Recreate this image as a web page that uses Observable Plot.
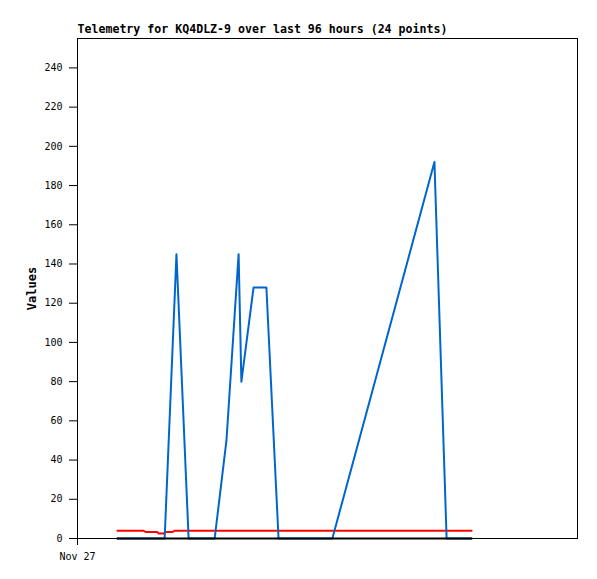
<!DOCTYPE html>
<html>
<head>
<meta charset="utf-8">
<script src="https://cdn.jsdelivr.net/npm/d3@7"></script>
<script src="https://cdn.jsdelivr.net/npm/@observablehq/plot@0.6"></script>
<style>
  html, body { margin: 0; padding: 0; background: #fff; }
</style>
</head>
<body>
<div id="chart"></div>
<script>
const title = "Telemetry for KQ4DLZ-9 over last 96 hours (24 points)";
const yLabel = "Values";
const yTicks = [0, 20, 40, 60, 80, 100, 120, 140, 160, 180, 200, 220, 240];
const xTickLabels = ["Nov 27"];
const xTickDates = ["2023-11-27T00:00"];

// blue series
const blueTimes = ["01:55","04:11","04:45","05:20","06:35","07:09","07:44","07:52","08:27","09:04","09:39","12:14","17:08","17:43","18:55"];
const blueValues = [0, 0, 145, 0, 0, 50, 145, 80, 128, 128, 0, 0, 192, 0, 0];

// red series
const redTimes = ["01:55","03:10","03:16","03:50","03:53","04:08","04:14","04:34","04:40","18:55"];
const redValues = [4, 4, 3.3, 3.3, 2.6, 2.6, 3.3, 3.3, 4, 4];

// black series
const blackTimes = ["01:55","18:55"];
const blackValues = [0, 0];

const day = "2023-11-27T";
const toDate = t => new Date(day + t);
const mk = (times, values) => times.map((t, i) => ({t: toDate(t), v: values[i]}));
const blue = mk(blueTimes, blueValues);
const red = mk(redTimes, redValues);
const black = mk(blackTimes, blackValues);

const chart = Plot.plot({
  width: 597,
  height: 579,
  marginTop: 38,
  marginLeft: 77,
  marginRight: 20,
  marginBottom: 41,
  style: {fontFamily: "DejaVu Sans Mono", fontSize: "10px", background: "#fff", color: "#000"},
  x: {type: "time", domain: [new Date("2023-11-27T00:00"), new Date("2023-11-28T00:00")]},
  y: {domain: [0, 255]},
  marks: [
    Plot.axisY({ticks: yTicks, tickSize: 8, tickPadding: 7, label: null, stroke: "#000"}),
    Plot.axisX({ticks: xTickDates.map(d => new Date(d)), tickFormat: (d, i) => xTickLabels[i], tickSize: 7, tickPadding: 7, label: null}),
    Plot.line(red, {x: "t", y: "v", stroke: "#ff0000", strokeWidth: 2, curve: "linear"}),
    Plot.line(blue, {x: "t", y: "v", stroke: "#0066cc", strokeWidth: 2, curve: "linear"}),
    Plot.line(black, {x: "t", y: "v", stroke: "#000", strokeWidth: 2}),
    Plot.frame({stroke: "#000"}),
    Plot.text([title], {frameAnchor: "top-left", textAnchor: "start", lineAnchor: "bottom", dy: -6, fontWeight: "bold", fontSize: 11.6}),
    Plot.text([yLabel], {frameAnchor: "left", dx: -45, rotate: -90, textAnchor: "middle", fontWeight: "bold", fontSize: 12})
  ]
});
document.getElementById("chart").appendChild(chart);
</script>
</body>
</html>
